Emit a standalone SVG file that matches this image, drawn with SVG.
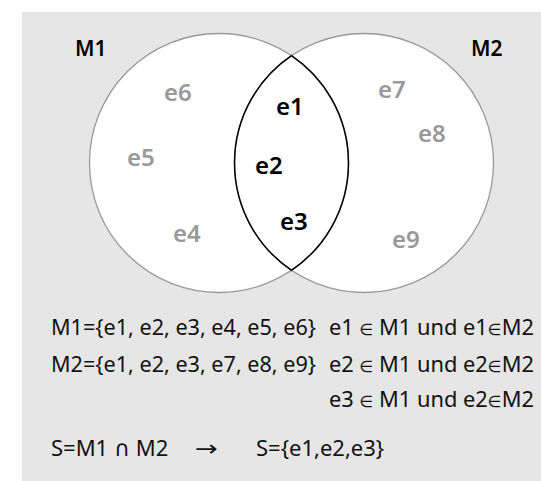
<svg xmlns="http://www.w3.org/2000/svg" width="541" height="481" viewBox="0 0 541 481">
  <style>
    .set { fill: #ffffff; stroke: none; }
    .outline { fill: none; stroke: #999999; stroke-width: 1.3; }
    .lens { fill: none; stroke: #000000; stroke-width: 1.5; }
    .lbl { font-family: "Noto Sans", "Open Sans", sans-serif; font-weight: 600; }
    .setname { font-size: 21px; fill: #000000; }
    .outer { font-size: 24px; fill: #999999; }
    .inner { font-size: 24px; fill: #000000; }
    .txt { font-family: "Noto Sans", "Open Sans", "DejaVu Sans", sans-serif; font-size: 22px; fill: #111111; }
    .el { font-size: 16px; }
  </style>
  <rect x="22" y="12" width="519" height="469" fill="#e6e6e6"/>

  <g id="fills">
    <circle class="set" cx="219" cy="163" r="129.5"/>
    <circle class="set" cx="364" cy="163" r="129.5"/>
  </g>

  <g id="M1">
    <circle class="outline" cx="219" cy="163" r="129.5"/>
    <text class="lbl setname" x="75" y="56">M1</text>
    <text class="lbl outer" x="164" y="101">e6</text>
    <text class="lbl outer" x="127" y="166">e5</text>
    <text class="lbl outer" x="173" y="242">e4</text>
  </g>

  <g id="M2">
    <circle class="outline" cx="364" cy="163" r="129.5"/>
    <text class="lbl setname" x="471" y="56">M2</text>
    <text class="lbl outer" x="378" y="98">e7</text>
    <text class="lbl outer" x="418" y="142">e8</text>
    <text class="lbl outer" x="392" y="248">e9</text>
  </g>

  <g id="intersection">
    <path class="lens" d="M 291.5 55.7 A 129.5 129.5 0 0 1 291.5 270.3 A 129.5 129.5 0 0 1 291.5 55.7 Z"/>
    <text class="lbl inner" x="276" y="115">e1</text>
    <text class="lbl inner" x="255" y="174">e2</text>
    <text class="lbl inner" x="280" y="230">e3</text>
  </g>

  <g id="connectors"></g>

  <g id="notes">
    <text class="txt" x="51" y="335" textLength="265" lengthAdjust="spacingAndGlyphs">M1={e1, e2, e3, e4, e5, e6}</text>
    <text class="txt" x="51" y="372" textLength="265" lengthAdjust="spacingAndGlyphs">M2={e1, e2, e3, e7, e8, e9}</text>
    <text class="txt" x="329" y="335" textLength="205" lengthAdjust="spacingAndGlyphs">e1 <tspan class="el">∈</tspan> M1 und e1<tspan class="el">∈</tspan>M2</text>
    <text class="txt" x="329" y="372" textLength="205" lengthAdjust="spacingAndGlyphs">e2 <tspan class="el">∈</tspan> M1 und e2<tspan class="el">∈</tspan>M2</text>
    <text class="txt" x="329" y="407" textLength="205" lengthAdjust="spacingAndGlyphs">e3 <tspan class="el">∈</tspan> M1 und e2<tspan class="el">∈</tspan>M2</text>
    <text class="txt" x="51" y="456">S=M1 ∩ M2</text>
    <text class="txt" x="195" y="456" textLength="23" lengthAdjust="spacingAndGlyphs">→</text>
    <text class="txt" x="256" y="456">S={e1,e2,e3}</text>
  </g>
</svg>
